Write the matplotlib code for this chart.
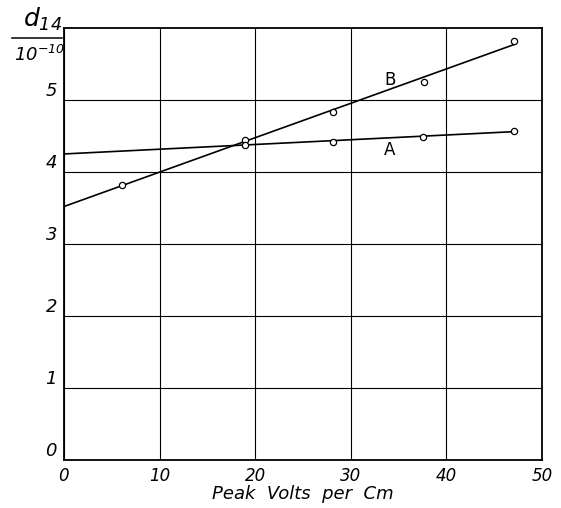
import numpy as np
import matplotlib.pyplot as plt
from matplotlib.lines import Line2D

plt.rcParams['mathtext.fontset'] = 'custom'
plt.rcParams['mathtext.rm'] = 'DejaVu Sans:italic'
plt.rcParams['mathtext.it'] = 'DejaVu Sans:italic'

# measured points
B_x = [6.1, 18.9, 28.1, 37.7, 47.1]
B_y = [3.82, 4.44, 4.83, 5.25, 5.82]
A_x = [18.9, 28.1, 37.6, 47.1]
A_y = [4.37, 4.42, 4.48, 4.57]

# drawn straight lines (ends)
line_x = [0, 47.1]
B_line = [3.52, 5.77]
A_line = [4.25, 4.56]

x_ticks = [0, 10, 20, 30, 40, 50]
y_ticks = [0, 1, 2, 3, 4, 5]

fig = plt.figure(figsize=(5.61, 5.08), dpi=100)
ax = fig.add_axes([0.114, 0.0945, 0.852, 0.8505])

ax.plot(line_x, B_line, color='black', lw=1.2)
ax.plot(line_x, A_line, color='black', lw=1.2)
ax.plot(B_x, B_y, 'o', ms=4.5, mfc='white', mec='black', mew=0.9)
ax.plot(A_x, A_y, 'o', ms=4.5, mfc='white', mec='black', mew=0.9)

ax.text(34.1, 5.28, 'B', fontsize=12, ha='center', va='center')
ax.text(34.1, 4.31, 'A', fontsize=12, ha='center', va='center')

ax.set_xlim(0, 50)
ax.set_ylim(0, 6)
ax.set_xticks(x_ticks)
ax.set_yticks(y_ticks)
ax.set_xticklabels([str(t) for t in x_ticks], style='italic', fontsize=12)
ax.set_yticklabels([str(t) for t in y_ticks], style='italic', fontsize=13)
plt.setp(ax.get_yticklabels(), va='bottom')
ax.tick_params(length=0, pad=5)
ax.grid(True, color='black', lw=0.8)
for s in ax.spines.values():
    s.set_linewidth(1.3)

ax.set_xlabel('Peak  Volts  per  Cm', style='italic', fontsize=13, labelpad=0)

# fraction style y label
fig.text(0.075, 0.962, r'$d_{14}$', fontsize=18, ha='center', va='center')
fig.add_artist(Line2D([0.022, 0.11], [0.925, 0.925], color='black', lw=1.1))
fig.text(0.07, 0.892, r'$10^{-10}$', fontsize=13, ha='center', va='center')

plt.savefig('out.png')
